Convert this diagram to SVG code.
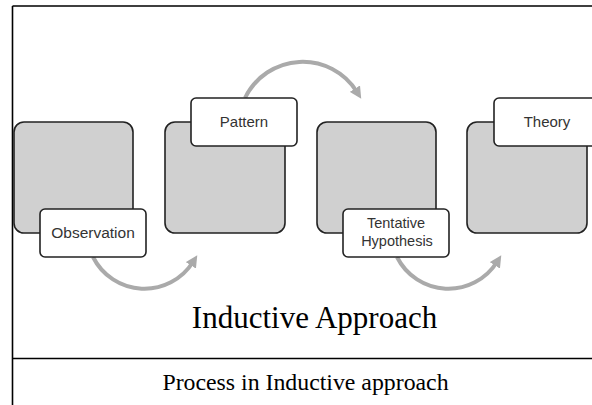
<svg xmlns="http://www.w3.org/2000/svg" width="592" height="405" viewBox="0 0 592 405">
<style>
.card{fill:#d0d0d0;stroke:#222;stroke-width:1.6}
.lbl{fill:#fff;stroke:#222;stroke-width:1.6}
.lt{font-family:"Liberation Sans",Arial,sans-serif;font-size:14.5px;fill:#333;text-anchor:middle}
.conn{fill:none;stroke:#aaaaaa;stroke-width:4}
.frame{stroke:#000;stroke-width:1.6;fill:none}
.serif{font-family:"Liberation Serif","Times New Roman",serif;fill:#000;text-anchor:middle}
</style>
<defs>
<marker id="ah" markerUnits="userSpaceOnUse" markerWidth="12" markerHeight="12" viewBox="0 0 12 12" refX="4" refY="6" orient="auto">
<path d="M0,0 L12,6 L0,12 Z" fill="#aaaaaa"/>
</marker>
</defs>
<rect x="0" y="0" width="592" height="405" fill="#fff"/>
<g id="frame">
<path class="frame" d="M12.5,6 H592 M12.5,6 V405 M12.5,358.5 H592"/>
</g>
<g id="connectors">
<path class="conn" d="M93,257 A57.5,57.5 0 0 0 193,262" marker-end="url(#ah)"/>
<path class="conn" d="M245,98 A64,64 0 0 1 357,92" marker-end="url(#ah)"/>
<path class="conn" d="M397,257 A57.5,57.5 0 0 0 497,262" marker-end="url(#ah)"/>
</g>
<g id="node-observation">
<rect class="card" x="14" y="122" width="119" height="111" rx="10"/>
<rect class="lbl" x="40" y="209" width="106" height="48" rx="5"/>
<text class="lt" x="93" y="238" style="font-size:15.5px">Observation</text>
</g>
<g id="node-pattern">
<rect class="card" x="165" y="122" width="120" height="111" rx="10"/>
<rect class="lbl" x="191" y="98" width="106" height="48" rx="5"/>
<text class="lt" x="244" y="127" style="font-size:15px">Pattern</text>
</g>
<g id="node-hypothesis">
<rect class="card" x="317" y="122" width="119" height="111" rx="10"/>
<rect class="lbl" x="343" y="209" width="106" height="48" rx="5"/>
<text class="lt" x="396" y="228">Tentative</text>
<text class="lt" x="397" y="246">Hypothesis</text>
</g>
<g id="node-theory">
<rect class="card" x="467" y="122" width="120" height="111" rx="10"/>
<rect class="lbl" x="494" y="98" width="106" height="48" rx="5"/>
<text class="lt" x="547" y="127" style="font-size:15px">Theory</text>
</g>
<text class="serif" x="314.5" y="328" font-size="31">Inductive Approach</text>
<text class="serif" x="305.5" y="390" font-size="23.8">Process in Inductive approach</text>
</svg>
